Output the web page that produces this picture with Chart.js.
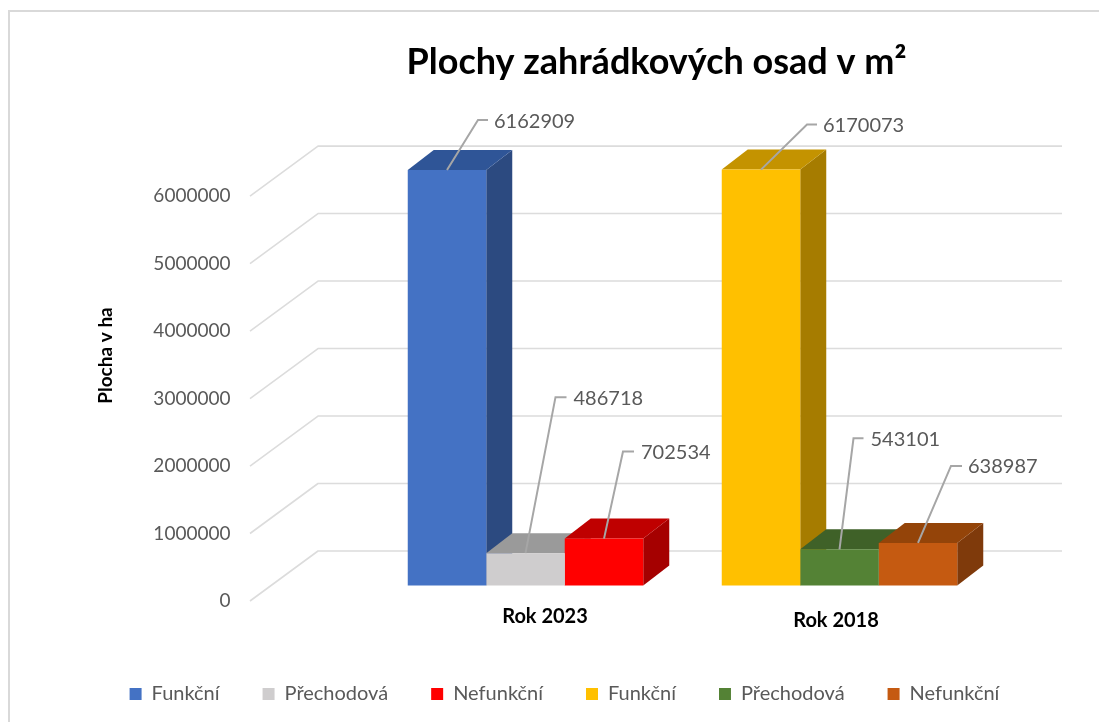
<!DOCTYPE html>
<html><head><meta charset="utf-8">
<style>html,body{margin:0;padding:0;background:#fff;overflow:hidden}#wrap{position:relative;width:1099px;height:722px;overflow:hidden}
#frame{position:absolute;left:8px;top:10px;width:1095px;height:720px;border:2px solid #D9D9D9;box-sizing:border-box}canvas{position:absolute;left:0;top:0}</style>
<script src="https://cdn.jsdelivr.net/npm/chart.js@4"></script>
</head><body><div id="wrap"><div id="frame"></div><canvas id="c" width="1099" height="722"></canvas></div>
<script>
const categories = ['Rok 2023', 'Rok 2018'];
const seriesNames = ['Funkční', 'Přechodová', 'Nefunkční', 'Funkční', 'Přechodová', 'Nefunkční'];
const funkcni2023 = [6162909, null];
const prechodova2023 = [486718, null];
const nefunkcni2023 = [702534, null];
const funkcni2018 = [null, 6170073];
const prechodova2018 = [null, 543101];
const nefunkcni2018 = [null, 638987];
const seriesValues = [funkcni2023, prechodova2023, nefunkcni2023, funkcni2018, prechodova2018, nefunkcni2018];
const frontColors = ['#4472C4', '#CFCDCE', '#FF0000', '#FFC000', '#548235', '#C55A11'];
const topColors = ['#2F5597', '#9A9A9A', '#BF0000', '#C49300', '#3F6128', '#944409'];
const sideColors = ['#2C4A80', '#8A8A8A', '#A50000', '#A67C00', '#375623', '#7F3A0B'];
const yTicks = [0, 1000000, 2000000, 3000000, 4000000, 5000000, 6000000];

// leader offsets from the bar's top centre: elbow dx,dy; stub length; text gap
const leaders = [[31,-50,10,6],[30,-156,11,7],[19,-87,11,7],[46,-45,10,6],[14,-111,10,7],[33,-77,11,6]];
const catLabelShift = [[19.5,31],[-3.5,35]];
const DX = 26, DY = -20, WALL_X0 = 250, WALL_X1 = 318, WALL_X2 = 1062, FRONT = 15, BACK = -35;

const depth = {
  id: 'depth',
  afterLayout(chart) {
    const t = chart.titleBlock; t.left += 92; t.right += 92;
  },
  beforeDatasetsDraw(chart) {
    const c = chart.ctx, y = chart.scales.y;
    c.save();
    c.strokeStyle = '#DCDCDC'; c.lineWidth = 1.6; c.lineJoin = 'round';
    yTicks.forEach(v => {
      const p = y.getPixelForValue(v);
      c.beginPath(); c.moveTo(WALL_X0, p + FRONT); c.lineTo(WALL_X1, p + BACK); c.lineTo(WALL_X2, p + BACK); c.stroke();
    });
    seriesValues.forEach((_, i) => {
      const bar = chart.getDatasetMeta(i).data[seriesValues[i][0] === null ? 1 : 0];
      const h = bar.getProps(['x','y','base','width'], true);
      const l = h.x - h.width/2, r = h.x + h.width/2;
      c.fillStyle = sideColors[i]; c.beginPath();
      c.moveTo(r, h.y); c.lineTo(r+DX, h.y+DY); c.lineTo(r+DX, h.base+DY); c.lineTo(r, h.base); c.closePath(); c.fill();
      c.fillStyle = topColors[i]; c.beginPath();
      c.moveTo(l, h.y); c.lineTo(r, h.y); c.lineTo(r+DX, h.y+DY); c.lineTo(l+DX, h.y+DY); c.closePath(); c.fill();
    });
    c.restore();
  },
  afterDatasetsDraw(chart) {
    const c = chart.ctx, x = chart.scales.x;
    c.save();
    seriesValues.forEach((vals, i) => {
      const k = vals[0] === null ? 1 : 0;
      const bar = chart.getDatasetMeta(i).data[k].getProps(['x','y'], true);
      const [ex, ey, st, gap] = leaders[i];
      c.strokeStyle = '#A6A6A6'; c.lineWidth = 2;
      c.beginPath(); c.moveTo(bar.x, bar.y); c.lineTo(bar.x+ex, bar.y+ey); c.lineTo(bar.x+ex+st, bar.y+ey); c.stroke();
      c.fillStyle = '#595959'; c.font = '20px Lato'; c.textAlign = 'left'; c.textBaseline = 'middle';
      c.fillText(String(vals[k]), bar.x+ex+st+gap, bar.y+ey+1);
    });
    c.fillStyle = '#000'; c.font = 'bold 20px Lato'; c.textAlign = 'center'; c.textBaseline = 'middle';
    categories.forEach((n, i) => {
      c.fillText(n, x.getPixelForValue(i)+catLabelShift[i][0], chart.chartArea.bottom+catLabelShift[i][1]);
    });
    c.restore();
  }
};

new Chart(document.getElementById('c'), {
  type: 'bar',
  data: {
    labels: categories,
    datasets: seriesNames.map((n, i) => ({
      label: n, data: seriesValues[i], backgroundColor: frontColors[i], borderWidth: 0,
      skipNull: true, categoryPercentage: 0.75, barPercentage: 1
    }))
  },
  plugins: [depth],
  options: {
    responsive: false, animation: false,
    layout: { padding: { left: 30, right: 0, top: 0, bottom: 8 } },
    plugins: {
      tooltip: { enabled: false },
      title: { display: true, text: 'Plochy zahrádkových osad v m²', color: '#000',
        font: { family: 'Lato', size: 36, weight: 'bold' }, padding: { top: 40.4, bottom: 41.4 } },
      legend: { position: 'bottom',
        labels: { boxWidth: 12, boxHeight: 12, padding: 43, color: '#595959', font: { family: 'Lato', size: 20 } } }
    },
    scales: {
      x: { grid: { display: false }, border: { display: false }, ticks: { display: false },
        afterFit: s => { s.height = 55; } },
      y: { min: 0, max: 6831000, border: { display: false },
        grid: { display: true, drawOnChartArea: false, drawTicks: true, tickLength: 138, tickColor: 'rgba(0,0,0,0)' },
        afterFit: s => { s.width = 338.5; },
        afterBuildTicks: s => { s.ticks = yTicks.map(v => ({ value: v })); },
        ticks: { padding: 0, labelOffset: 15, color: '#595959', font: { family: 'Lato', size: 19 }, callback: v => String(v) },
        title: { display: true, text: 'Plocha v ha', color: '#000', font: { family: 'Lato', size: 19, weight: 'bold' }, padding: { top: 64, bottom: 0 } } },
      pad: { position: 'right', grid: { display: false }, border: { display: false }, ticks: { display: false },
        afterFit: s => { s.width = 102.5; } }
    }
  }
});
</script></body></html>
